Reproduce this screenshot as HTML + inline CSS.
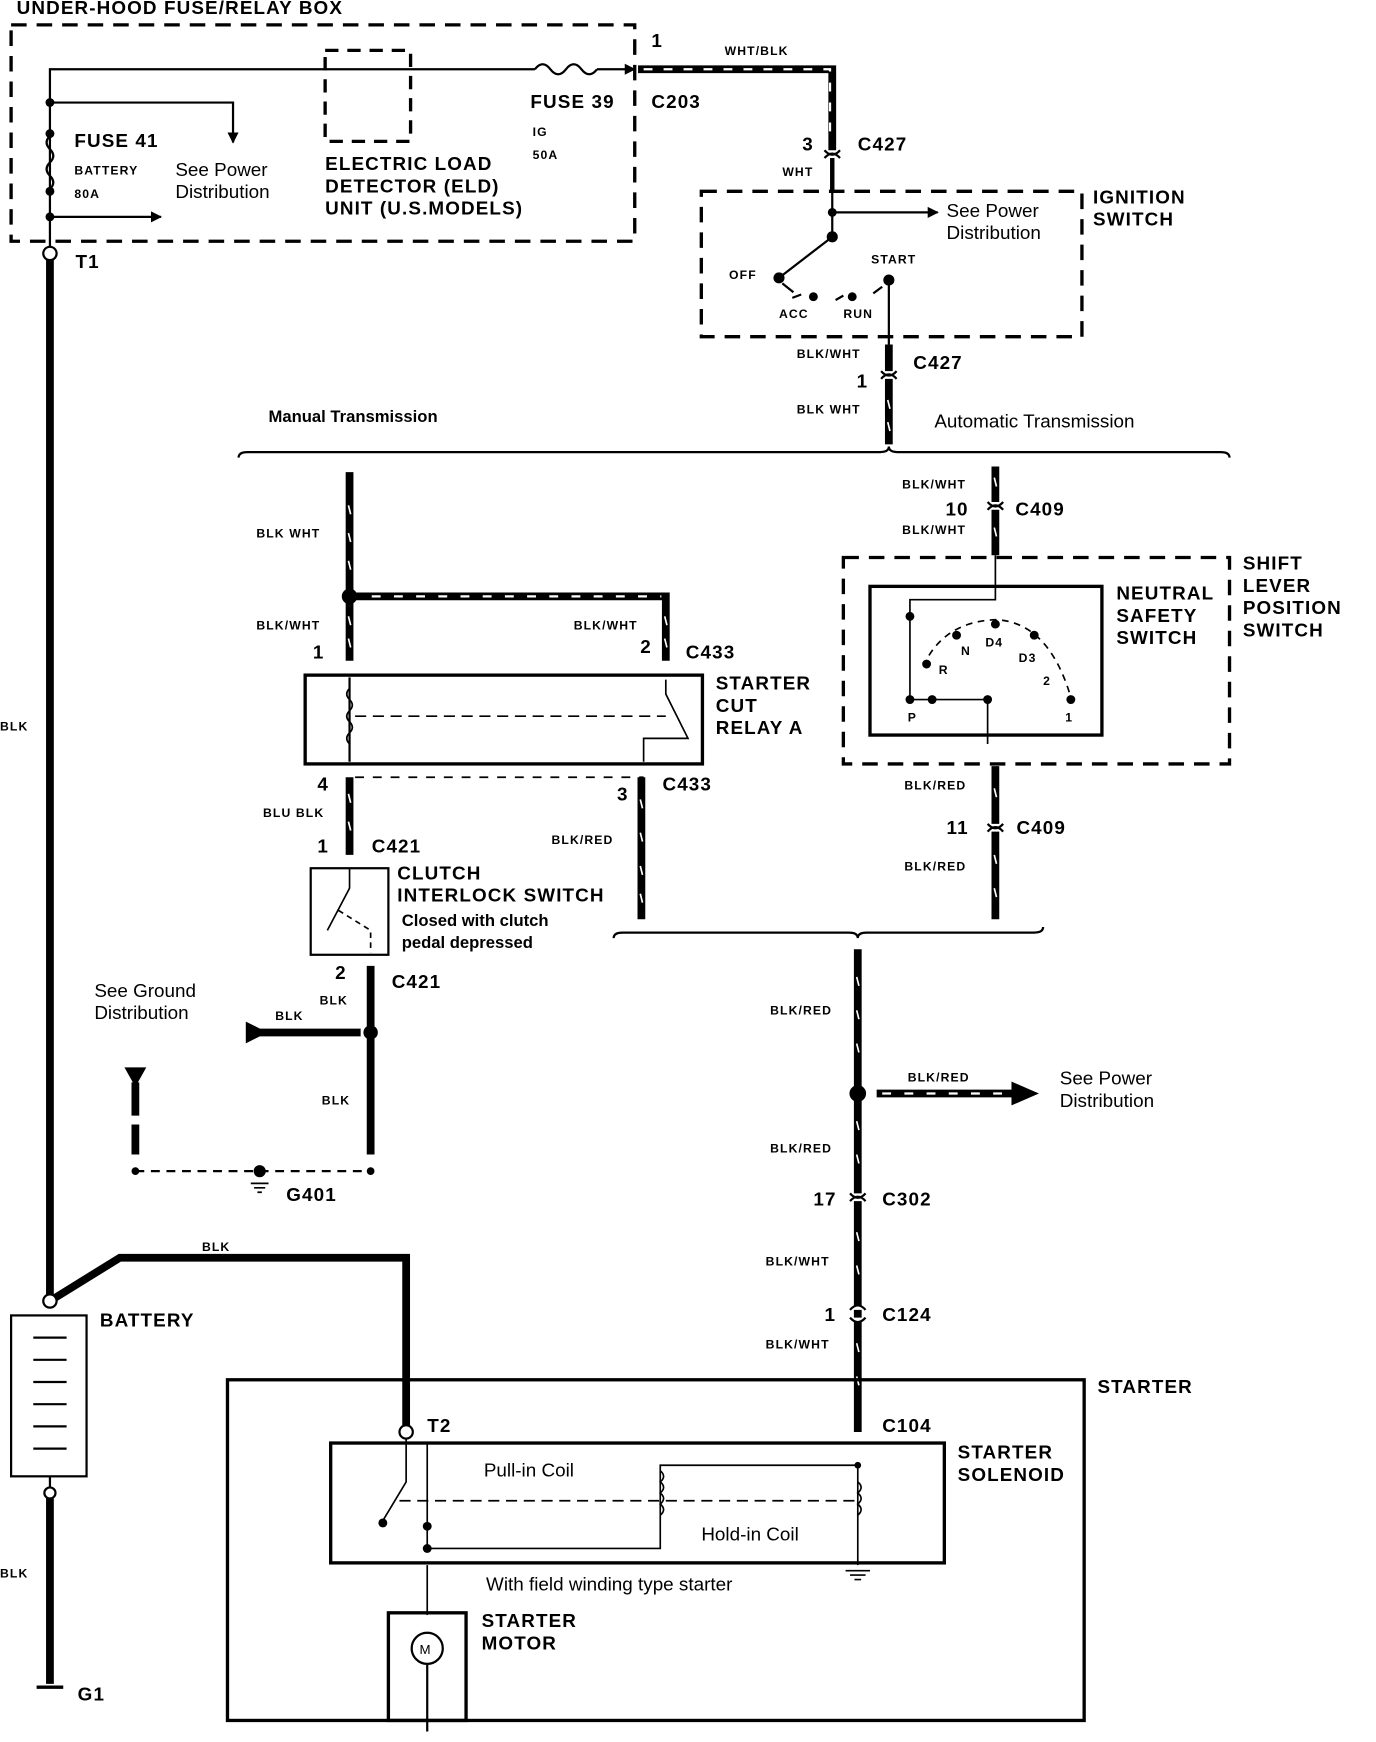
<!DOCTYPE html>
<html><head><meta charset="utf-8"><style>
html,body{margin:0;padding:0;background:#fff;}
svg{display:block;}
text{font-family:"Liberation Sans",Arial,sans-serif;fill:#000;}
.b{font-weight:bold;font-size:17px;letter-spacing:1px;}
.s{font-weight:bold;font-size:11px;letter-spacing:1px;}
.n{font-size:17px;}
.m{font-weight:bold;font-size:15px;}
</style></head><body>
<svg width="1376" height="1742" viewBox="0 0 1240 1569" xmlns="http://www.w3.org/2000/svg">
<defs>
<marker id="ar" markerWidth="10" markerHeight="10" refX="9" refY="5" orient="auto" markerUnits="userSpaceOnUse"><path d="M0,0 L10,5 L0,10 z" fill="#000"/></marker>
</defs>
<g fill="none" stroke="#000">
<rect x="10" y="22" width="562" height="195" stroke-width="3" stroke-dasharray="14,9"/>
<rect x="293" y="45" width="77" height="82" stroke-width="3" stroke-dasharray="12,8"/>
<polyline points="45,230 45,62 482,62" stroke-width="2"/>
<path d="M482,62 q7,-9 14,0 q7,9 14,0 q7,-9 14,0 q7,9 14,0" stroke-width="2"/>
<line x1="538" y1="62" x2="572" y2="62" stroke-width="2" marker-end="url(#ar)"/>
<polyline points="45,92 210,92 210,128" stroke-width="2" marker-end="url(#ar)"/>
<path d="M45,122 q-6,6 0,12 q6,6 0,12 q-6,6 0,12 q6,6 0,12" stroke-width="2"/>
<line x1="45" y1="195" x2="145" y2="195" stroke-width="2" marker-end="url(#ar)"/>
<line x1="45" y1="230" x2="45" y2="1172" stroke-width="7"/>
<circle cx="45" cy="228" r="6" fill="#fff" stroke-width="2"/>
<polyline points="45,1172 108,1133 366,1133 366,1286" stroke-width="7"/>
<circle cx="45" cy="1172" r="6" fill="#fff" stroke-width="2"/>
<circle cx="366" cy="1290" r="6" fill="#fff" stroke-width="2"/>
<rect x="10" y="1185" width="68" height="145" stroke-width="2"/>
<line x1="45" y1="1330" x2="45" y2="1345" stroke-width="2"/>
<circle cx="45" cy="1345" r="5" fill="#fff" stroke-width="2"/>
<line x1="45" y1="1350" x2="45" y2="1517" stroke-width="7"/>
<line x1="30" y1="1205" x2="60" y2="1205" stroke-width="2"/>
<line x1="30" y1="1225" x2="60" y2="1225" stroke-width="2"/>
<line x1="30" y1="1245" x2="60" y2="1245" stroke-width="2"/>
<line x1="30" y1="1265" x2="60" y2="1265" stroke-width="2"/>
<line x1="30" y1="1285" x2="60" y2="1285" stroke-width="2"/>
<line x1="30" y1="1305" x2="60" y2="1305" stroke-width="2"/>
<line x1="33" y1="1520" x2="57" y2="1520" stroke-width="3"/>
<polyline points="575,62 750,62 750,135" stroke-width="7"/>
<polyline points="580,62 748,62 748,128" stroke="#fff" stroke-width="2" stroke-dasharray="8,10"/>
<path d="M743,135 q7,8 14,0 M743,142 q7,-8 14,0" stroke-width="2"/>
<line x1="750" y1="142" x2="750" y2="172" stroke-width="4"/>
<rect x="632" y="172" width="343" height="131" stroke-width="3" stroke-dasharray="14,9"/>
<line x1="750" y1="172" x2="750" y2="213" stroke-width="2"/>
<line x1="750" y1="191" x2="845" y2="191" stroke-width="2" marker-end="url(#ar)"/>
<line x1="750" y1="213" x2="702" y2="250" stroke-width="2"/>
<path d="M705,255 l10,8 M722,265 l-8,3 M760,266 l-7,4 M795,258 l-8,6" stroke-width="2"/>
<line x1="801" y1="255" x2="801" y2="310" stroke-width="2"/>
<line x1="801" y1="310" x2="801" y2="400" stroke-width="7"/>
<path d="M794,334 q7,8 14,0 M794,341 q7,-8 14,0" stroke-width="2" fill="#fff"/>
<path d="M215,412 q0,-5 8,-5 L793,407 q8,0 8,-5 q0,5 8,5 L1100,407 q8,0 8,5" stroke-width="2"/>
<line x1="315" y1="425" x2="315" y2="595" stroke-width="7"/>
<polyline points="318,537 600,537 600,595" stroke-width="7"/>
<polyline points="335,537 596,537" stroke="#fff" stroke-width="2" stroke-dasharray="8,12"/>
<rect x="275" y="608" width="358" height="80" stroke-width="3"/>
<line x1="315" y1="610" x2="315" y2="686" stroke-width="2"/>
<path d="M315,620 q-5,5 0,10 q5,5 0,10 q-5,5 0,10 q5,5 0,10 q-5,5 0,10" stroke-width="1.5"/>
<line x1="320" y1="645" x2="600" y2="645" stroke-width="1.5" stroke-dasharray="10,6"/>
<polyline points="600,612 600,625 620,665 580,665 580,686" stroke-width="1.5"/>
<line x1="315" y1="700" x2="315" y2="770" stroke-width="7"/>
<line x1="578" y1="700" x2="578" y2="828" stroke-width="7"/>
<line x1="320" y1="700" x2="580" y2="700" stroke-width="1.5" stroke-dasharray="8,8"/>
<rect x="280" y="782" width="70" height="78" stroke-width="2"/>
<polyline points="315,782 315,800 295,838" stroke-width="1.5"/>
<polyline points="305,820 334,838 334,858" stroke-width="1.5" stroke-dasharray="5,4"/>
<line x1="334" y1="870" x2="334" y2="1040" stroke-width="7"/>
<line x1="222" y1="930" x2="325" y2="930" stroke-width="7"/>
<path d="M222,921 L240,930 L222,939 z" fill="#000"/>
<circle cx="334" cy="930" r="6" fill="#000"/>
<line x1="122" y1="975" x2="122" y2="1040" stroke-width="7" stroke-dasharray="30,8"/>
<path d="M113,962 L131,962 L122,978 z" fill="#000"/>
<line x1="122" y1="1055" x2="334" y2="1055" stroke-width="2" stroke-dasharray="8,6"/>
<circle cx="122" cy="1055" r="3" fill="#000"/>
<circle cx="334" cy="1055" r="3" fill="#000"/>
<circle cx="234" cy="1055" r="5" fill="#000"/>
<path d="M226,1066 h16 M229,1070 h10 M232,1074 h4" stroke-width="1.5"/>
<path d="M553,845 q0,-5 8,-5 L765,840 q8,0 8,5 q0,-5 8,-5 L932,840 q8,0 8,-5" stroke-width="2"/>
<line x1="897" y1="420" x2="897" y2="500" stroke-width="7"/>
<path d="M890,452 q7,8 14,0 M890,459 q7,-8 14,0" stroke-width="2" fill="#fff"/>
<rect x="760" y="502" width="348" height="186" stroke-width="3" stroke-dasharray="14,9"/>
<rect x="784" y="528" width="209" height="134" stroke-width="3"/>
<polyline points="897,500 897,540 820,540 820,630" stroke-width="1.5"/>
<path d="M832,600 Q850,560 897,558 Q945,560 965,628" stroke-width="1.5" stroke-dasharray="6,5"/>
<polyline points="820,630 890,630 890,670" stroke-width="1.5"/>
<line x1="897" y1="690" x2="897" y2="828" stroke-width="7"/>
<path d="M890,742 q7,8 14,0 M890,749 q7,-8 14,0" stroke-width="2" fill="#fff"/>
<line x1="773" y1="855" x2="773" y2="1290" stroke-width="7"/>
<circle cx="773" cy="985" r="7" fill="#000"/>
<line x1="790" y1="985" x2="925" y2="985" stroke-width="7"/>
<line x1="795" y1="985" x2="905" y2="985" stroke="#fff" stroke-width="2" stroke-dasharray="8,12"/>
<path d="M912,975 L935,985 L912,995 z" fill="#000"/>
<path d="M766,1075 q7,8 14,0 M766,1082 q7,-8 14,0" stroke-width="2" fill="#fff"/>
<path d="M766,1180 q7,-8 14,0 M766,1187 q7,8 14,0" stroke-width="2" fill="#fff"/>
<g stroke="#fff" stroke-width="1.5">
<path d="M314,455 l2,8 M314,480 l2,8 M314,505 l2,8 M314,555 l2,8 M314,575 l2,8 M314,715 l2,8 M314,740 l2,8"/>
<path d="M577,720 l2,8 M577,750 l2,8 M577,780 l2,8 M577,805 l2,8 M599,555 l2,8 M599,575 l2,8"/>
<path d="M800,360 l2,8 M800,380 l2,8 M896,430 l2,8 M896,475 l2,8 M896,710 l2,8 M896,770 l2,8 M896,800 l2,8"/>
<path d="M772,880 l2,8 M772,910 l2,8 M772,940 l2,8 M772,1010 l2,8 M772,1040 l2,8 M772,1110 l2,8 M772,1140 l2,8 M772,1210 l2,8 M772,1240 l2,8"/>
</g>
<rect x="205" y="1243" width="772" height="307" stroke-width="3"/>
<rect x="298" y="1300" width="553" height="108" stroke-width="3"/>
<polyline points="366,1296 366,1335 345,1370" stroke-width="1.5"/>
<polyline points="385,1300 385,1395 595,1395 595,1320 773,1320 773,1410" stroke-width="1.5"/>
<line x1="360" y1="1352" x2="770" y2="1352" stroke-width="1.5" stroke-dasharray="10,6"/>
<path d="M595,1325 q6,5 0,10 q6,5 0,10 q6,5 0,10 q6,5 0,10" stroke-width="1.5"/>
<path d="M773,1335 q6,5 0,10 q6,5 0,10 q6,5 0,10" stroke-width="1.5"/>
<line x1="385" y1="1410" x2="385" y2="1455" stroke-width="1.5"/>
<rect x="350" y="1453" width="70" height="97" stroke-width="3"/>
<circle cx="385" cy="1485" r="14" stroke-width="2"/>
<line x1="385" y1="1500" x2="385" y2="1560" stroke-width="2"/>
<path d="M762,1415 h22 M766,1419 h14 M770,1423 h6" stroke-width="1.5"/>
</g>
<g fill="#000">
<circle cx="45" cy="92" r="4"/><circle cx="45" cy="120" r="4"/><circle cx="45" cy="172" r="4"/><circle cx="45" cy="195" r="4"/>
<circle cx="750" cy="191" r="4"/><circle cx="750" cy="213" r="5"/><circle cx="702" cy="250" r="5"/><circle cx="733" cy="267" r="4"/><circle cx="768" cy="267" r="4"/><circle cx="801" cy="252" r="5"/>
<circle cx="315" cy="537" r="7"/>
<circle cx="820" cy="555" r="4"/><circle cx="862" cy="572" r="4"/><circle cx="897" cy="562" r="4"/><circle cx="932" cy="572" r="4"/><circle cx="835" cy="598" r="4"/><circle cx="820" cy="630" r="4"/><circle cx="840" cy="630" r="4"/><circle cx="890" cy="630" r="4"/><circle cx="965" cy="630" r="4"/>
<circle cx="385" cy="1375" r="4"/><circle cx="385" cy="1395" r="4"/><circle cx="773" cy="1320" r="3"/><circle cx="345" cy="1372" r="4"/>
</g>
<text class="b" x="15" y="12" font-size="16">UNDER-HOOD FUSE/RELAY BOX</text>
<text class="b" x="67" y="132">FUSE 41</text>
<text class="s" x="67" y="157">BATTERY</text>
<text class="s" x="67" y="178">80A</text>
<text class="n" x="158" y="158">See Power</text>
<text class="n" x="158" y="178">Distribution</text>
<text class="b" x="293" y="153" font-weight="normal">ELECTRIC LOAD</text>
<text class="b" x="293" y="173" font-weight="normal">DETECTOR (ELD)</text>
<text class="b" x="293" y="193" font-weight="normal">UNIT (U.S.MODELS)</text>
<text class="b" x="478" y="97">FUSE 39</text>
<text class="s" x="480" y="122">IG</text>
<text class="s" x="480" y="143">50A</text>
<text class="b" x="587" y="42" font-size="15">1</text>
<text class="b" x="587" y="97">C203</text>
<text class="s" x="653" y="49">WHT/BLK</text>
<text class="b" x="723" y="135">3</text>
<text class="b" x="773" y="135">C427</text>
<text class="s" x="705" y="158">WHT</text>
<text class="n" x="853" y="195">See Power</text>
<text class="n" x="853" y="215">Distribution</text>
<text class="b" x="985" y="183">IGNITION</text>
<text class="b" x="985" y="203">SWITCH</text>
<text class="s" x="657" y="251">OFF</text>
<text class="s" x="785" y="237">START</text>
<text class="s" x="702" y="286">ACC</text>
<text class="s" x="760" y="286">RUN</text>
<text class="s" x="718" y="322">BLK/WHT</text>
<text class="b" x="823" y="332">C427</text>
<text class="b" x="772" y="349" font-size="15">1</text>
<text class="s" x="718" y="372">BLK WHT</text>
<text class="m" x="242" y="380">Manual Transmission</text>
<text class="n" x="842" y="385">Automatic Transmission</text>
<text class="s" x="231" y="484">BLK WHT</text>
<text class="s" x="231" y="567">BLK/WHT</text>
<text class="b" x="282" y="593" font-size="15">1</text>
<text class="s" x="517" y="567">BLK/WHT</text>
<text class="b" x="577" y="588" font-size="15">2</text>
<text class="b" x="618" y="593">C433</text>
<text class="b" x="645" y="621">STARTER</text>
<text class="b" x="645" y="641">CUT</text>
<text class="b" x="645" y="661">RELAY A</text>
<text class="b" x="286" y="712" font-size="15">4</text>
<text class="b" x="556" y="721" font-size="15">3</text>
<text class="b" x="597" y="712">C433</text>
<text class="s" x="237" y="736">BLU BLK</text>
<text class="s" x="497" y="760">BLK/RED</text>
<text class="b" x="286" y="768" font-size="15">1</text>
<text class="b" x="335" y="768">C421</text>
<text class="b" x="358" y="792" font-weight="normal">CLUTCH</text>
<text class="b" x="358" y="812" font-weight="normal">INTERLOCK SWITCH</text>
<text class="m" x="362" y="834">Closed with clutch</text>
<text class="m" x="362" y="854">pedal depressed</text>
<text class="b" x="302" y="882" font-size="15">2</text>
<text class="b" x="353" y="890">C421</text>
<text class="n" x="85" y="898">See Ground</text>
<text class="n" x="85" y="918">Distribution</text>
<text class="s" x="288" y="905">BLK</text>
<text class="s" x="248" y="919">BLK</text>
<text class="s" x="290" y="995">BLK</text>
<text class="b" x="258" y="1082">G401</text>
<text class="s" x="0" y="658">BLK</text>
<text class="s" x="813" y="440">BLK/WHT</text>
<text class="b" x="852" y="464" font-size="15">10</text>
<text class="b" x="915" y="464">C409</text>
<text class="s" x="813" y="481">BLK/WHT</text>
<text class="b" x="1120" y="513">SHIFT</text>
<text class="b" x="1120" y="533">LEVER</text>
<text class="b" x="1120" y="553">POSITION</text>
<text class="b" x="1120" y="573">SWITCH</text>
<text class="b" x="1006" y="540">NEUTRAL</text>
<text class="b" x="1006" y="560">SAFETY</text>
<text class="b" x="1006" y="580">SWITCH</text>
<text class="s" x="866" y="590">N</text><text class="s" x="888" y="582">D4</text><text class="s" x="918" y="596">D3</text>
<text class="s" x="846" y="607">R</text><text class="s" x="940" y="617">2</text>
<text class="s" x="818" y="650">P</text><text class="s" x="960" y="650">1</text>
<text class="s" x="815" y="711">BLK/RED</text>
<text class="b" x="853" y="751" font-size="15">11</text>
<text class="b" x="916" y="751">C409</text>
<text class="s" x="815" y="784">BLK/RED</text>
<text class="s" x="694" y="914">BLK/RED</text>
<text class="s" x="818" y="974">BLK/RED</text>
<text class="n" x="955" y="977">See Power</text>
<text class="n" x="955" y="997">Distribution</text>
<text class="s" x="694" y="1038">BLK/RED</text>
<text class="b" x="733" y="1086" font-size="15">17</text>
<text class="b" x="795" y="1086">C302</text>
<text class="s" x="690" y="1140">BLK/WHT</text>
<text class="b" x="743" y="1190" font-size="15">1</text>
<text class="b" x="795" y="1190">C124</text>
<text class="s" x="690" y="1215">BLK/WHT</text>
<text class="s" x="182" y="1127">BLK</text>
<text class="b" x="90" y="1195">BATTERY</text>
<text class="b" x="989" y="1255">STARTER</text>
<text class="b" x="385" y="1290" font-size="15">T2</text>
<text class="b" x="795" y="1290">C104</text>
<text class="b" x="863" y="1314">STARTER</text>
<text class="b" x="863" y="1334">SOLENOID</text>
<text class="n" x="436" y="1330">Pull-in Coil</text>
<text class="n" x="632" y="1388">Hold-in Coil</text>
<text class="n" x="438" y="1433">With field winding type starter</text>
<text class="b" x="434" y="1466">STARTER</text>
<text class="b" x="434" y="1486">MOTOR</text>
<text x="378" y="1490" font-size="12">M</text>
<text class="b" x="68" y="241" font-size="15">T1</text>
<text class="s" x="0" y="1421">BLK</text>
<text class="b" x="70" y="1532">G1</text>
</svg>
</body></html>
